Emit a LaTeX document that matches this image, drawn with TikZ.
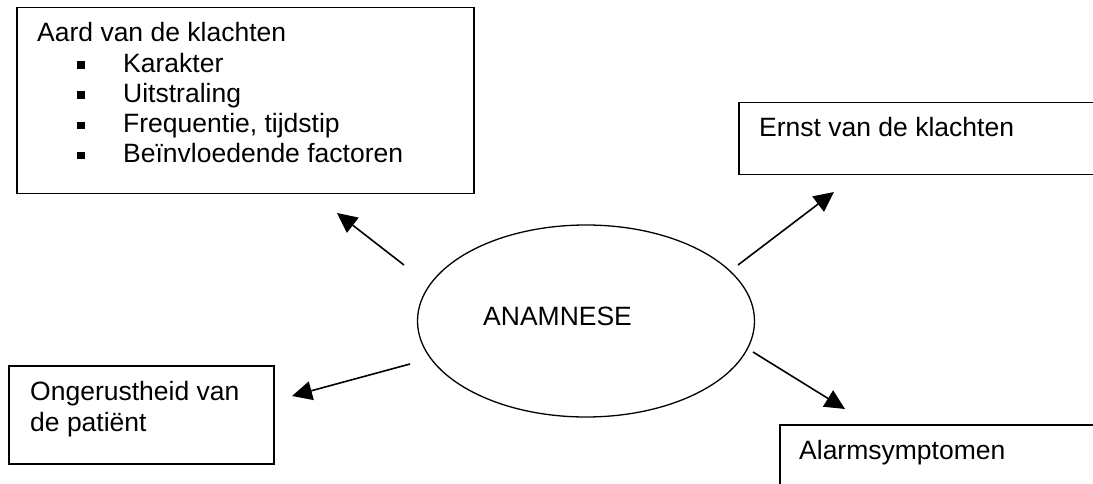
\documentclass[tikz,border=0pt]{standalone}
\usepackage{fontspec}
\setmainfont{Liberation Sans}
\usetikzlibrary{arrows.meta,shapes.geometric}
\begin{document}
\begin{tikzpicture}[x=1pt,y=-1pt,
  box/.style={draw, line width=1.5pt, anchor=north west, inner sep=0pt},
  txt/.style={anchor=base west, inner sep=0pt, font=\fontsize{26.5}{30.5}\selectfont},
  bul/.style={fill, inner sep=0pt, minimum size=7.5pt},
  arr/.style={line width=1.6pt, -{Triangle[length=20pt,width=19pt]}}]
\clip (0,0) rectangle (1093,484);
\fill[white] (0,0) rectangle (1093,484);
% boxes
\node[box, minimum width=457pt, minimum height=186pt] (aard) at (16,7) {};
\node[box, minimum width=380pt, minimum height=72pt] (ernst) at (738,102) {};
\node[box, minimum width=265pt, minimum height=98pt] (onger) at (8,365) {};
\node[box, minimum width=340pt, minimum height=90pt] (alarm) at (779,424) {};
% texts
\node[txt] (t1) at (37,42) {Aard van de klachten};
\node[txt] (t2) at (123,73) {Karakter};
\node[txt] (t3) at (123,103) {Uitstraling};
\node[txt] (t4) at (123,133) {Frequentie, tijdstip};
\node[txt] (t5) at (123,163) {Beïnvloedende factoren};
\node[bul] (b2) at (81,65) {};
\node[bul] (b3) at (81,95) {};
\node[bul] (b4) at (81,125.5) {};
\node[bul] (b5) at (81,155.5) {};
\node[txt] (te) at (759,137) {Ernst van de klachten};
\node[txt] (to1) at (30,400) {Ongerustheid van};
\node[txt] (to2) at (30,431) {de patiënt};
\node[txt] (ta) at (799,459) {Alarmsymptomen};
% ellipse
\node[draw, ellipse, line width=1.3pt, minimum width=337pt, minimum height=192pt, inner sep=0pt] (ell) at (586,321) {};
\node[txt] (anam) at (483,325) {ANAMNESE};
% arrow ends
\coordinate (s1) at (404,265); \coordinate (e1) at (337,213);
\coordinate (s2) at (738,265); \coordinate (e2) at (834,192);
\coordinate (s3) at (410,364); \coordinate (e3) at (292,396);
\coordinate (s4) at (753,352); \coordinate (e4) at (845,409);
\draw[arr] (s1) -- (e1);
\draw[arr] (s2) -- (e2);
\draw[arr] (s3) -- (e3);
\draw[arr] (s4) -- (e4);
\end{tikzpicture}
\end{document}
